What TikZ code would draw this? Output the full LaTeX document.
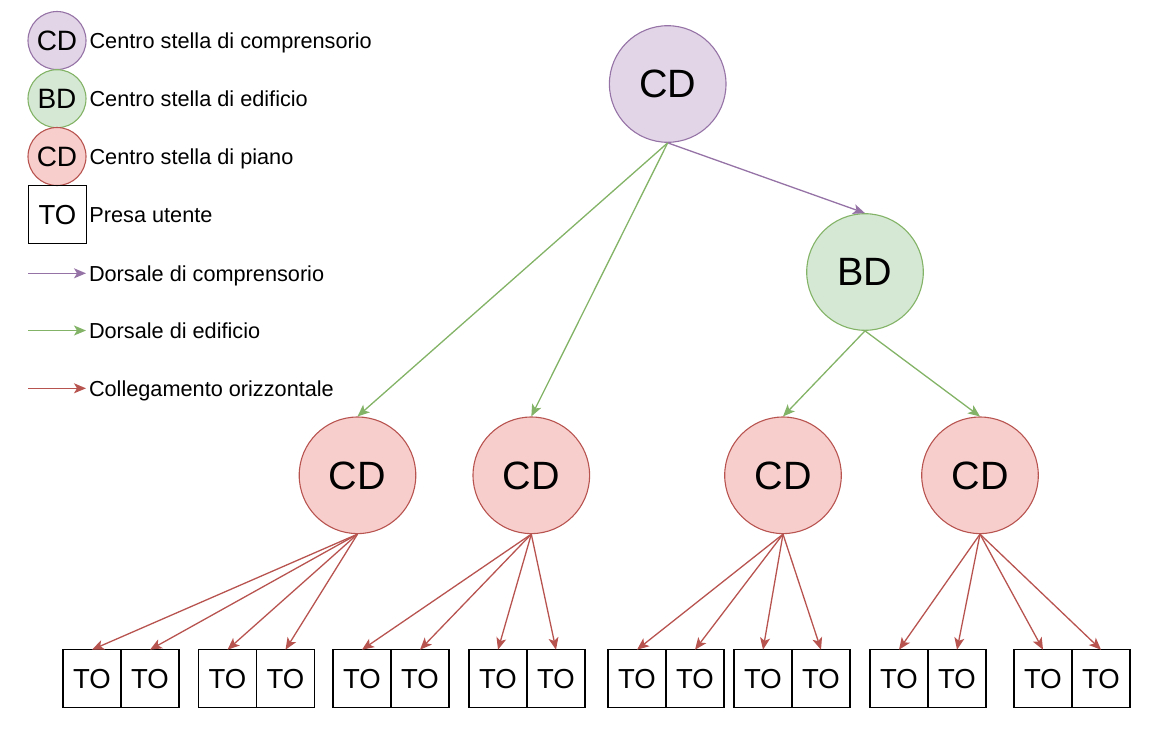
\documentclass[tikz,border=0pt]{standalone}
\usepackage{fontspec}
\setmainfont{Liberation Sans}
\usetikzlibrary{arrows.meta,positioning}

\definecolor{campfill}{HTML}{E1D5E7}
\definecolor{campline}{HTML}{9673A6}
\definecolor{bldfill}{HTML}{D5E8D4}
\definecolor{bldline}{HTML}{82B366}
\definecolor{flrfill}{HTML}{F8CECC}
\definecolor{flrline}{HTML}{B85450}

\begin{document}
\begin{tikzpicture}[x=1pt,y=-1pt,>={Stealth[length=12pt,width=10pt,inset=3pt]},node distance=58pt,
    hub/.style={circle,draw,line width=1.1pt,minimum size=116.6pt,inner sep=0pt,text depth=0pt,font=\fontsize{39.5}{47}\selectfont},
    mini/.style={minimum size=58pt,font=\fontsize{28}{33}\selectfont},
    camp/.style={hub,draw=campline,fill=campfill},
    bld/.style={hub,draw=bldline,fill=bldfill},
    flr/.style={hub,draw=flrline,fill=flrfill},
    outlet/.style={draw,line width=1.1pt,minimum size=58pt,inner sep=0pt,outer sep=0pt,text depth=0pt,font=\fontsize{27.5}{33}\selectfont},
    lbl/.style={inner sep=3pt,outer sep=0pt,text depth=0pt,font=\fontsize{21.7}{26}\selectfont},
    camplink/.style={->,color=campline,line width=1.3pt},
    bldlink/.style={->,color=bldline,line width=1.3pt},
    flrlink/.style={->,color=flrline,line width=1.3pt}]
    \useasboundingbox (0,0) rectangle (1151,729);

    % legend
    \node[camp,mini]   (lcd) at (57,40.5)  {CD};
    \node[bld,mini]    (lbd) at (57,98.7)  {BD};
    \node[flr,mini]    (lfl) at (57,156.5) {CD};
    \node[outlet]      (lto) at (57.4,214.8) {TO};
    \node[lbl] (t1) [right=0pt of lcd] {Centro stella di comprensorio};
    \node[lbl] (t2) [right=0pt of lbd] {Centro stella di edificio};
    \node[lbl] (t3) [right=0pt of lfl] {Centro stella di piano};
    \node[lbl] (t4) [right=0pt of lto] {Presa utente};
    \coordinate (la1) at (28,273.3);
    \coordinate (la2) at (28,330.5);
    \coordinate (la3) at (28,388.3);
    \node[lbl,anchor=west] (t5) at (86,273.3) {Dorsale di comprensorio};
    \node[lbl,anchor=west] (t6) at (86,330.5) {Dorsale di edificio};
    \node[lbl,anchor=west] (t7) at (86,388.3) {Collegamento orizzontale};
    \draw[camplink] (la1) -- (t5.west);
    \draw[bldlink]  (la2) -- (t6.west);
    \draw[flrlink]  (la3) -- (t7.west);

    % centri stella
    \node[camp] (cd) at (667.7,84)    {CD};
    \node[bld]  (bd) at (865,272)     {BD};
    \node[flr]  (f1) at (357.5,475.3) {CD};
    \node[flr]  (f2) at (531.3,475.3) {CD};
    \node[flr]  (f3) at (783,475.3)   {CD};
    \node[flr]  (f4) at (980,475.3)   {CD};

    % prese utente
    \node[outlet] (to1)  at (92,678.7)   {TO};
    \node[outlet] (to2)  [right of=to1]  {TO};
    \node[outlet] (to3)  at (227.5,678.7) {TO};
    \node[outlet] (to4)  [right of=to3]  {TO};
    \node[outlet] (to5)  at (362,678.7)  {TO};
    \node[outlet] (to6)  [right of=to5]  {TO};
    \node[outlet] (to7)  at (498,678.7)  {TO};
    \node[outlet] (to8)  [right of=to7]  {TO};
    \node[outlet] (to9)  at (637,678.7)  {TO};
    \node[outlet] (to10) [right of=to9]  {TO};
    \node[outlet] (to11) at (763,678.7)  {TO};
    \node[outlet] (to12) [right of=to11] {TO};
    \node[outlet] (to13) at (899,678.7)  {TO};
    \node[outlet] (to14) [right of=to13] {TO};
    \node[outlet] (to15) at (1043,678.7) {TO};
    \node[outlet] (to16) [right of=to15] {TO};

    \path[camplink] (cd.south) edge (bd.north);
    \path[bldlink]  (cd.south) edge (f1.north)
                               edge (f2.north)
                    (bd.south) edge (f3.north)
                               edge (f4.north);
    \path[flrlink]  (f1.south) edge (to1.north)
                               edge (to2.north)
                               edge (to3.north)
                               edge (to4.north)
                    (f2.south) edge (to5.north)
                               edge (to6.north)
                               edge (to7.north)
                               edge (to8.north)
                    (f3.south) edge (to9.north)
                               edge (to10.north)
                               edge (to11.north)
                               edge (to12.north)
                    (f4.south) edge (to13.north)
                               edge (to14.north)
                               edge (to15.north)
                               edge (to16.north);
\end{tikzpicture}
\end{document}
